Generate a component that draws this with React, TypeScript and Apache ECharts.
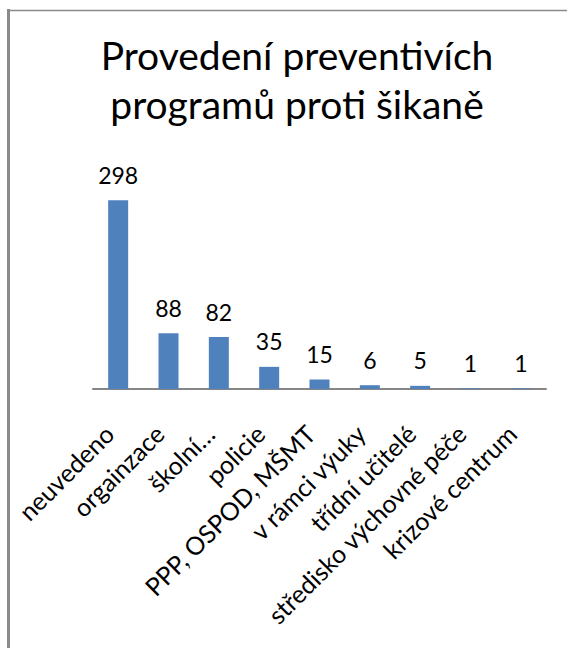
import React, { useEffect, useRef } from "react";
import * as echarts from "echarts";

const categories = [
  "neuvedeno",
  "orgainzace",
  "školní…",
  "policie",
  "PPP, OSPOD, MŠMT",
  "v rámci výuky",
  "třídní učitelé",
  "středisko výchovné péče",
  "krizové centrum",
];
const values = [298, 88, 82, 35, 15, 6, 5, 1, 1];
const titleLines = ["Provedení preventivích", "programů proti šikaně"];

export default function App() {
  const ref = useRef<HTMLDivElement>(null);
  useEffect(() => {
    if (!ref.current) return;
    const chart = echarts.init(ref.current, null, { renderer: "svg" });
    const font = "Lato, 'Noto Sans', sans-serif";
    chart.setOption({
      animation: false,
      backgroundColor: "#ffffff",
      title: {
        text: titleLines.join("\n"),
        left: 292,
        top: 25,
        textAlign: "center",
        textStyle: {
          fontFamily: font,
          fontSize: 39,
          fontWeight: "normal",
          color: "#000000",
          lineHeight: 49,
        },
      },
      graphic: [
        {
          type: "line",
          shape: { x1: 8.5, y1: 9, x2: 8.5, y2: 660 },
          style: { stroke: "#8a8a8a", lineWidth: 3 },
        },
        {
          type: "line",
          shape: { x1: 7, y1: 10.5, x2: 580, y2: 10.5 },
          style: { stroke: "#8a8a8a", lineWidth: 1.5 },
        },
      ],
      grid: { left: 93, right: 21, top: 199, bottom: 259, containLabel: false },
      xAxis: {
        type: "category",
        data: categories,
        axisLine: { lineStyle: { color: "#868686", width: 2 } },
        axisTick: { show: false },
        axisLabel: {
          interval: 0,
          rotate: 45,
          margin: 31,
          padding: [0, 13, 0, 0],
          fontFamily: font,
          fontSize: 25,
          color: "#000000",
        },
      },
      yAxis: {
        type: "value",
        min: 0,
        max: 300,
        show: false,
        splitLine: { show: false },
      },
      series: [
        {
          type: "bar",
          data: values,
          barWidth: 20,
          itemStyle: { color: "#4f81bd" },
          label: {
            show: true,
            position: "top",
            distance: 14,
            fontFamily: font,
            fontSize: 23,
            color: "#000000",
          },
        },
      ],
    });
    return () => chart.dispose();
  }, []);
  return (
    <div
      ref={ref}
      style={{ position: "fixed", left: 0, top: 0, width: 567, height: 648 }}
    />
  );
}
